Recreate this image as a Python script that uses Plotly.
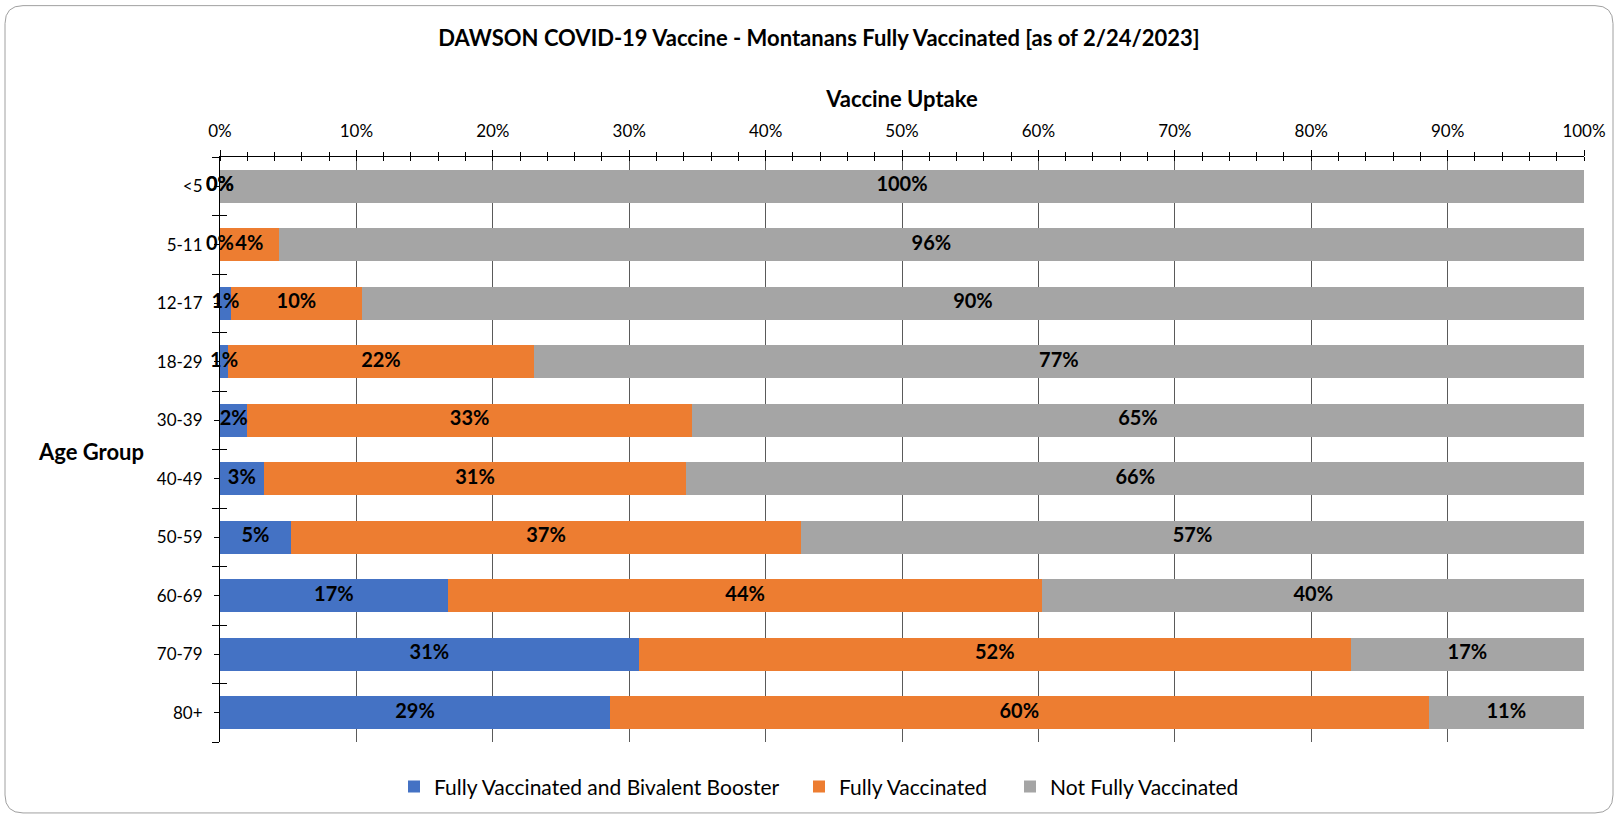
import plotly.graph_objects as go

categories = ["<5", "5-11", "12-17", "18-29", "30-39", "40-49", "50-59", "60-69", "70-79", "80+"]
booster = [0.0, 0.0, 0.8, 0.6, 2.0, 3.2, 5.2, 16.7, 30.7, 28.6]
fully = [0.0, 4.3, 9.6, 22.4, 32.6, 31.0, 37.4, 43.6, 52.2, 60.0]
not_fully = [100.0, 95.7, 89.6, 77.0, 65.4, 65.8, 57.4, 39.7, 17.1, 11.4]
series_names = ["Fully Vaccinated and Bivalent Booster", "Fully Vaccinated", "Not Fully Vaccinated"]
colors = ["#4472C4", "#ED7D31", "#A5A5A5"]
x_ticks = list(range(0, 101, 10))

W, H = 1615, 817
L, R, T, B = 220, 1584, 156.5, 742
FONT = "Lato"

pos = list(range(len(categories)))
boundaries = [i - 0.5 for i in range(len(categories) + 1)]

fig = go.Figure()
series = [booster, fully, not_fully]
legend_ids = ["legend", "legend2", "legend3"]
for name, vals, col, lg in zip(series_names, series, colors, legend_ids):
    fig.add_trace(go.Bar(y=pos, x=vals, name=name, orientation="h", legend=lg,
                         marker=dict(color=col, line=dict(width=0)),
                         customdata=categories, hovertemplate="%{customdata}: %{x}%<extra></extra>"))

# data labels centred in each segment
base = [0.0] * len(categories)
for vals in series:
    mids = [b + v / 2 for b, v in zip(base, vals)]
    fig.add_trace(go.Scatter(y=pos, x=mids, mode="text",
                             text=[f"{v:.0f}%" for v in vals],
                             textfont=dict(family=FONT, size=20, color="#000000", weight="bold"),
                             showlegend=False, hoverinfo="skip", cliponaxis=False))
    base = [b + v for b, v in zip(base, vals)]

# invisible trace that activates the overlay axes (inner halves of the crossing ticks)
fig.add_trace(go.Scatter(x=[None], y=[None], xaxis="x2", yaxis="y2",
                         showlegend=False, hoverinfo="skip"))

leg_common = dict(orientation="h", yanchor="middle", xanchor="left",
                  y=(B - 787) / (B - T), font=dict(family=FONT, size=21, color="#000000"),
                  itemwidth=30, bgcolor="rgba(0,0,0,0)")
marker_left = [417, 822, 1033]

fig.update_layout(
    template="none",
    width=W, height=H,
    barmode="stack", bargap=0.435,
    margin=dict(l=L, r=W - R, t=T, b=H - B, autoexpand=False),
    plot_bgcolor="white", paper_bgcolor="white",
    font=dict(family=FONT, size=17, color="#000000"),
    title=dict(text="<b>DAWSON COVID-19 Vaccine - Montanans Fully Vaccinated [as of 2/24/2023]</b>",
               x=819 / W, xref="container", xanchor="center",
               y=1 - 38 / H, yref="container", yanchor="middle",
               font=dict(family=FONT, size=22, color="#000000")),
    xaxis=dict(side="top", range=[0, 100], tickvals=x_ticks, ticktext=[f"{v}%" for v in x_ticks],
               showgrid=True, gridcolor="#5A5A5A", gridwidth=1,
               showline=True, linecolor="#000000", linewidth=1,
               ticks="outside", ticklen=6, tickcolor="#000000",
               ticklabelstandoff=6, automargin=False,
               minor=dict(dtick=2, ticks="outside", ticklen=4, tickcolor="#000000", showgrid=False),
               zeroline=False, fixedrange=True,
               title=dict(text="<b>Vaccine Uptake</b>", standoff=6,
                          font=dict(family=FONT, size=22))),
    xaxis2=dict(overlaying="x", side="top", anchor="y2", range=[0, 100], tickvals=x_ticks,
                showticklabels=False, showgrid=False, showline=False, zeroline=False,
                ticks="", automargin=False, fixedrange=True,
                minor=dict(dtick=2, ticks="inside", ticklen=4, tickcolor="#000000", showgrid=False)),
    yaxis=dict(range=[9.5, -0.5], tickvals=pos, ticktext=categories,
               showline=True, linecolor="#000000", linewidth=1,
               ticks="outside", ticklen=5, tickcolor="#000000",
               ticklabelstandoff=8, showgrid=False, zeroline=False, automargin=False,
               minor=dict(tickvals=boundaries, ticks="outside", ticklen=7,
                          tickcolor="#000000", showgrid=False),
               fixedrange=True),
    yaxis2=dict(overlaying="y", side="left", anchor="x2", range=[9.5, -0.5],
                tickvals=boundaries, ticks="inside", ticklen=7, tickcolor="#000000",
                showticklabels=False, showgrid=False, zeroline=False, showline=False,
                automargin=False, fixedrange=True),
    legend=dict(x=(marker_left[0] - 23 - L) / (R - L), **leg_common),
    legend2=dict(x=(marker_left[1] - 23 - L) / (R - L), **leg_common),
    legend3=dict(x=(marker_left[2] - 23 - L) / (R - L), **leg_common),
    showlegend=True,
)

fig.add_annotation(text="<b>Age Group</b>", xref="paper", yref="paper",
                   x=(91 - L) / (R - L), y=(B - 451) / (B - T), xanchor="center", yanchor="middle",
                   showarrow=False, font=dict(family=FONT, size=22, color="#000000"))

# rounded chart border
def px(xp):
    return (xp - L) / (R - L)

def py(yp):
    return (B - yp) / (B - T)

x0, x1, y0, y1, r = 5, 1613, 5, 813, 18
path = (f"M {px(x0 + r)},{py(y0)} L {px(x1 - r)},{py(y0)} "
        f"Q {px(x1)},{py(y0)} {px(x1)},{py(y0 + r)} "
        f"L {px(x1)},{py(y1 - r)} Q {px(x1)},{py(y1)} {px(x1 - r)},{py(y1)} "
        f"L {px(x0 + r)},{py(y1)} Q {px(x0)},{py(y1)} {px(x0)},{py(y1 - r)} "
        f"L {px(x0)},{py(y0 + r)} Q {px(x0)},{py(y0)} {px(x0 + r)},{py(y0)} Z")
fig.add_shape(type="path", path=path, xref="paper", yref="paper",
              line=dict(color="#A0A0A0", width=1), fillcolor="rgba(0,0,0,0)", layer="below")

fig.write_html("out.html", config={"displayModeBar": False},
               post_script="document.body.style.margin='0';document.body.style.overflow='hidden';")
